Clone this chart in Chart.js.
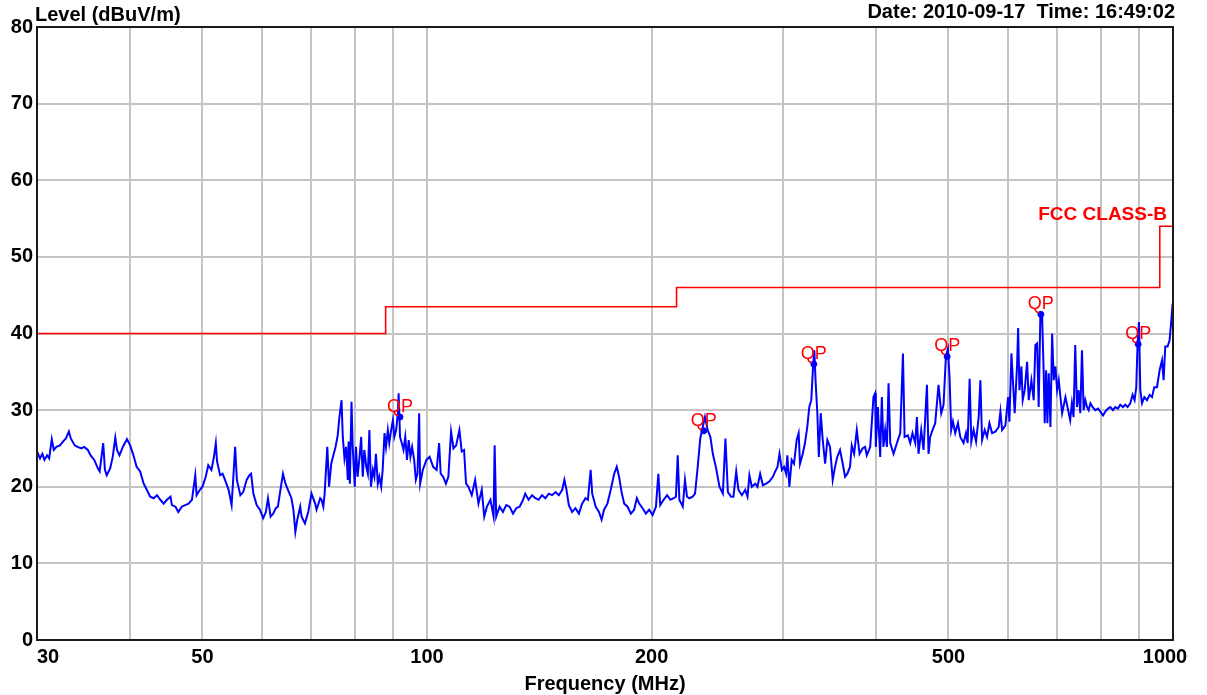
<!DOCTYPE html>
<html>
<head>
<meta charset="utf-8">
<title>Radiated emission scan</title>
<script src="https://cdn.jsdelivr.net/npm/chart.js"></script>
<style>
  body { margin: 0; background: #fff; }
  canvas { display: block; }
</style>
</head>
<body>
<canvas id="scan" width="1207" height="695"></canvas>
<script>
// peak sweep, 30 MHz - 1 GHz
const freqMHz = [
  30.0,30.28,30.5,30.7,30.95,31.15,31.4,31.6,31.85,32.2,
  32.5,32.8,33.1,33.3,33.7,34.0,34.4,34.7,35.1,35.4,
  35.8,36.2,36.4,36.8,37.0,37.2,37.6,37.9,38.2,38.4,
  38.7,39.1,39.6,40.0,
  40.4,40.8,41.25,41.7,42.1,42.55,43.0,43.45,43.9,44.35,44.8,45.3,45.5,46.0,46.4,46.9,47.4,47.9,48.4,48.9,49.1,49.6,50.0,
  50.5,50.9,51.4,51.8,52.1,52.3,52.8,53.2,53.6,54.2,54.7,55.1,55.3,55.6,56.2,56.7,57.3,57.8,58.1,58.5,59.1,59.7,
  60.3,60.8,61.2,61.7,62.2,62.7,63.1,63.6,64.1,64.6,65.1,65.8,66.2,66.6,67.0,
  67.6,67.9,68.6,69.3,70.0,70.8,71.1,71.9,72.2,72.6,
  72.9,73.2,73.5,73.9,74.4,74.8,75.4,75.9,76.3,76.8,
  77.1,77.5,77.9,78.3,78.5,78.8,79.2,79.5,80.0,80.3,
  80.7,81.2,81.6,82.0,82.4,82.9,83.3,83.7,84.1,84.6,
  85.0,85.4,85.9,86.3,86.8,87.2,87.7,88.1,88.6,89.0,
  89.5,90.0,90.4,90.9,91.4,91.6,92.0,92.5,93.0,93.5,
  94.0,94.5,95.0,95.5,96.1,96.6,97.1,97.6,97.9,98.7,
  99.8,100.8,101.9,103.0,103.8,104.3,105.1,106.0,106.8,
  107.7,108.5,109.4,110.5,111.3,112.1,
  112.8,113.6,114.8,116.0,117.2,118.4,119.3,120.3,121.6,122.8,
  123.2,123.8,125.1,126.4,127.7,129.0,130.4,
  131.7,133.1,134.5,135.4,136.8,138.3,139.7,141.1,142.6,144.1,
  145.6,147.1,148.7,150.2,151.8,152.8,153.8,154.9,156.5,158.1,
  159.8,161.4,163.1,164.3,165.7,166.5,168.3,170.0,171.4,172.7,
  174.5,176.3,
  178.2,179.6,180.9,182.3,183.8,185.7,187.6,189.5,191.1,192.5,
  194.5,196.5,198.5,200.6,202.7,204.2,205.4,207.6,209.8,211.9,
  214.1,215.6,216.8,217.9,220.2,221.7,223.1,224.7,227.0,228.7,
  230.6,232.4,234.2,235.8,237.8,239.8,241.6,244.1,246.6,249.2,
  251.2,253.1,255.7,
  257.5,259.7,261.5,264.3,267.0,268.9,270.5,272.5,275.4,277.3,
  279.6,282.0,284.9,287.8,290.8,292.9,295.0,296.8,299.0,301.0,
  302.9,304.1,306.0,308.2,310.4,313.0,314.9,316.2,318.9,321.1,
  323.4,325.4,327.4,329.4,330.5,331.9,333.6,335.1,337.1,339.2,
  341.7,344.1,346.9,349.8,352.3,354.8,357.8,360.8,363.4,366.0,
  369.0,371.0,373.7,376.8,380.0,383.5,
  386.6,388.6,392.7,396.7,398.8,399.6,402.1,405.0,407.1,409.1,
  411.3,413.5,415.6,417.8,422.1,426.5,430.9,434.5,436.7,441.2,
  444.4,447.5,451.3,453.6,455.9,459.7,463.0,467.9,470.2,472.6,
  476.0,480.0,484.9,489.0,492.5,496.1,499.2,501.7,504.3,507.0,
  510.6,514.9,518.6,523.9,527.8,530.5,533.8,536.6,540.4,544.5,
  548.9,551.8,554.7,559.2,563.3,567.4,572.1,578.0,583.9,587.0,
  590.1,596.1,601.1,603.5,607.3,609.7,613.5,618.1,620.0,622.5,
  626.3,628.8,632.7,637.4,640.6,645.9,650.5,653.9,657.4,660.6,
  664.1,667.6,670.9,673.0,675.9,678.6,681.4,685.0,688.6,692.0,
  695.6,699.3,702.8,706.5,710.2,717.5,724.9,
  728.1,731.9,
  735.7,739.5,743.4,747.2,751.1,755.1,758.9,762.9,766.9,770.8,
  774.9,780.4,786.9,793.4,799.1,805.7,811.4,818.2,824.1,830.9,
  836.8,843.8,849.8,856.9,863.0,869.2,876.4,882.7,888.2,892.8,
  896.4,900.3,904.0,908.8,915.3,922.9,930.4,937.3,943.9,951.8,
  959.5,966.6,971.4,976.4,983.4,989.5,994.8,998.8,1000
];
const levelDb = [
  24.6,23.7,24.3,23.5,24.1,23.7,26.2,24.8,25.2,25.4,
  25.9,26.3,27.2,26.3,25.4,25.2,25.0,25.2,24.8,24.1,
  23.5,22.4,22.0,25.7,22.2,21.5,22.4,23.9,26.4,24.8,
  24.1,25.2,26.2,25.4,
  24.1,22.6,22.0,20.4,19.6,18.7,18.5,18.9,18.3,17.8,18.3,18.7,17.6,17.4,16.7,17.4,17.6,17.8,18.3,21.5,18.9,19.6,20.0,
  21.3,22.8,22.2,23.9,25.7,23.3,21.5,21.7,20.9,19.6,17.6,22.6,25.2,20.9,18.9,19.3,20.9,21.5,21.7,19.1,17.6,17.0,
  15.9,16.7,18.5,16.1,16.5,17.2,17.4,19.6,21.7,20.4,19.6,18.5,17.0,14.1,15.7,
  17.4,16.1,15.2,16.7,19.1,17.8,17.0,18.5,18.3,17.4,
  19.1,22.2,25.2,20.0,23.0,23.9,25.2,26.7,29.1,31.3,
  26.5,23.7,25.2,20.9,25.9,20.4,31.1,25.2,20.0,25.2,
  21.3,23.9,26.5,21.3,24.8,22.6,21.7,27.4,20.0,22.2,
  21.3,24.3,20.4,21.3,20.0,22.2,27.0,25.2,27.4,25.7,
  27.4,28.7,26.5,27.4,29.6,32.2,26.5,25.7,24.8,26.5,
  23.5,26.1,23.9,25.2,23.5,20.9,21.7,29.6,20.4,22.2,
  23.5,23.9,22.6,22.2,25.7,21.7,21.3,20.4,21.3,
  27.2,25.0,25.4,27.4,24.6,24.8,
  20.4,20.0,18.9,20.9,17.8,19.6,16.1,17.4,18.3,16.1,
  25.4,16.1,17.4,16.7,17.6,17.4,16.5,
  17.2,17.4,18.3,19.1,18.3,18.9,18.5,18.3,18.9,18.5,
  19.1,18.9,19.3,18.9,19.6,20.9,19.6,17.6,16.7,17.2,
  16.5,17.8,18.5,18.3,22.2,19.1,17.4,16.7,15.7,17.0,
  17.8,19.6,
  21.7,22.6,21.3,19.3,17.8,17.4,16.5,17.0,18.5,17.8,
  17.2,16.5,17.0,16.3,17.4,21.7,17.6,18.3,18.9,18.3,
  18.5,18.7,24.1,18.3,17.4,20.9,18.7,18.5,18.7,19.1,
  22.6,26.3,27.8,29.1,27.4,26.5,24.3,22.4,20.0,19.1,
  26.3,19.3,18.7,
  18.7,22.0,19.6,18.9,19.6,18.7,21.5,20.0,20.4,20.0,
  21.7,20.2,20.4,20.7,21.3,22.0,22.6,24.3,22.2,22.6,
  21.7,24.1,20.0,23.5,23.0,26.1,27.0,23.0,24.3,25.7,
  27.8,30.4,31.3,36.1,37.8,33.5,29.6,23.9,29.6,26.1,
  23.0,26.1,25.2,20.9,22.6,23.9,24.8,23.0,21.3,21.7,
  22.6,25.4,24.3,27.4,24.3,25.0,
  25.2,24.1,25.2,31.7,32.2,25.2,30.4,23.9,31.7,25.2,
  27.4,25.2,33.5,25.7,24.3,25.7,27.0,37.4,26.5,26.7,
  25.7,27.0,25.7,29.1,24.3,27.4,24.8,33.3,24.3,26.5,
  27.4,28.3,33.3,29.6,30.7,37.0,38.0,34.3,27.4,28.5,
  27.0,28.3,26.5,25.7,27.0,25.7,34.1,25.9,27.4,25.9,
  29.1,33.9,26.1,27.4,26.5,28.3,27.0,27.2,27.8,29.8,
  27.4,28.0,31.7,28.5,37.4,34.3,29.6,36.1,40.7,32.6,
  35.7,31.3,32.6,36.3,31.3,33.9,31.3,38.5,38.7,30.4,
  42.6,42.4,34.8,28.3,35.2,28.3,34.8,27.8,40.0,33.9,
  35.7,32.6,33.9,31.7,29.6,31.7,29.6,
  28.7,30.9,
  29.1,38.5,30.4,32.6,29.6,37.8,30.0,31.3,30.4,30.0,
  30.9,30.4,30.0,30.2,29.8,29.3,29.8,30.2,30.4,30.0,
  30.4,30.2,30.7,30.4,30.7,30.4,30.9,32.0,31.3,33.0,
  38.7,41.5,32.6,30.9,31.7,31.3,32.0,31.7,33.0,33.0,
  35.2,36.5,33.9,38.3,38.3,39.1,41.7,43.9,40.4
];

// FCC class B limit (3 m), steps at 88 / 216 / 960 MHz
const limitFreq = [30, 88, 216, 960, 1000];
const limitLevel = [40, 43.5, 46, 54, 54];

// quasi-peak readings
const qpFreq = [92, 235, 330, 498, 665, 898];
const qpLevel = [29.1, 27.3, 36.0, 37.0, 42.5, 38.6];

// axis ticks
const gridFreqs = [30, 40, 50, 60, 70, 80, 90, 100, 200, 300, 400, 500, 600, 700, 800, 900, 1000];
const freqLabels = [30, 50, 100, 200, 500, 1000];

const FONT = '"Liberation Sans", Arial, sans-serif';
const toPoints = (xs, ys) => xs.map((x, i) => ({ x: x, y: ys[i] }));

const decorations = {
  id: 'decorations',
  afterDraw(chart) {
    const ctx = chart.ctx;
    const a = chart.chartArea;
    const x = chart.scales.x;
    const y = chart.scales.y;
    ctx.save();

    // frame
    ctx.strokeStyle = '#1a1a1a';
    ctx.lineWidth = 2;
    ctx.strokeRect(a.left, a.top, a.right - a.left, a.bottom - a.top);

    // frequency labels
    ctx.fillStyle = '#000';
    ctx.font = 'bold 20px ' + FONT;
    ctx.textBaseline = 'alphabetic';
    freqLabels.forEach((f, i) => {
      let px = x.getPixelForValue(f);
      ctx.textAlign = 'center';
      if (i === 0) ctx.textAlign = 'left';
      if (i === freqLabels.length - 1) px -= 8;
      ctx.fillText(String(f), px, a.bottom + 23);
    });

    // titles
    ctx.textAlign = 'center';
    ctx.fillText('Frequency (MHz)', (a.left + a.right) / 2, a.bottom + 50);
    ctx.textAlign = 'left';
    ctx.fillText('Level (dBuV/m)', a.left - 2, a.top - 6);
    ctx.textAlign = 'right';
    ctx.fillText('Date: 2010-09-17  Time: 16:49:02', a.right + 2, a.top - 9);

    // limit name
    ctx.fillStyle = '#ff0000';
    ctx.font = 'bold 19px ' + FONT;
    ctx.fillText('FCC CLASS-B', x.getPixelForValue(1000) - 6, y.getPixelForValue(54) - 6);

    // QP tags
    ctx.font = '18px ' + FONT;
    ctx.textAlign = 'center';
    qpFreq.forEach((f, i) => {
      ctx.fillText('QP', x.getPixelForValue(f), y.getPixelForValue(qpLevel[i]) - 5);
    });
    ctx.restore();
  }
};

new Chart(document.getElementById('scan'), {
  type: 'line',
  data: {
    datasets: [
      {
        data: toPoints(qpFreq, qpLevel),
        showLine: false,
        pointRadius: 3,
        pointBackgroundColor: '#0000ff',
        pointBorderColor: '#0000ff'
      },
      {
        data: toPoints(freqMHz, levelDb),
        borderColor: '#0000ff',
        borderWidth: 2,
        pointRadius: 0
      },
      {
        data: toPoints(limitFreq, limitLevel),
        borderColor: '#ff0000',
        borderWidth: 1.6,
        stepped: 'before',
        pointRadius: 0
      }
    ]
  },
  options: {
    responsive: false,
    animation: false,
    devicePixelRatio: 1,
    layout: { padding: { top: 27, right: 34, left: 0, bottom: 0 } },
    plugins: { legend: { display: false }, tooltip: { enabled: false } },
    scales: {
      x: {
        type: 'logarithmic',
        min: 30,
        max: 1000,
        afterBuildTicks: (scale) => { scale.ticks = gridFreqs.map(v => ({ value: v })); },
        afterFit: (scale) => { scale.height = 55; },
        ticks: { display: false },
        grid: { color: '#c4c4c4', lineWidth: 2, drawTicks: false },
        border: { display: false }
      },
      y: {
        min: 0,
        max: 80,
        afterFit: (scale) => { scale.width = 37; },
        ticks: {
          stepSize: 10,
          padding: 4,
          color: '#000',
          font: { family: FONT, size: 20, weight: 'bold' }
        },
        grid: { color: '#c4c4c4', lineWidth: 2, drawTicks: false },
        border: { display: false }
      }
    }
  },
  plugins: [decorations]
});
</script>
</body>
</html>
